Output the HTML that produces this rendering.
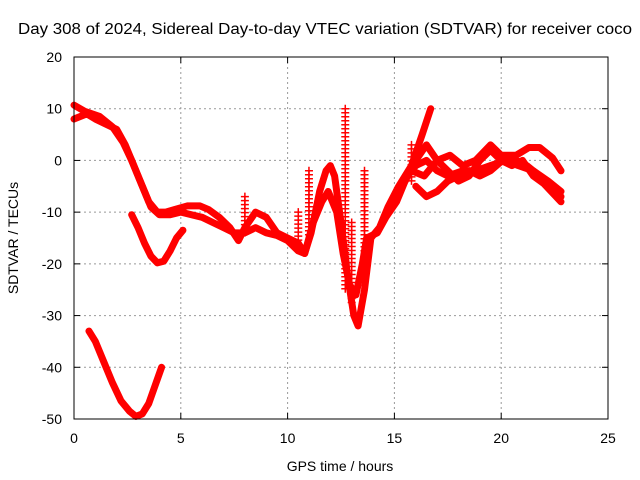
<!DOCTYPE html>
<html><head><meta charset="utf-8"><style>
html,body{margin:0;padding:0;background:#fff;}
svg{display:block;font-family:"Liberation Sans",sans-serif;}
</style></head><body>
<svg id="chart" width="640" height="480">
<text x="18" y="34" font-size="15.5" textLength="614" lengthAdjust="spacingAndGlyphs">Day 308 of 2024, Sidereal Day-to-day VTEC variation (SDTVAR) for receiver coco</text>
<text x="0" y="0" font-size="14" text-anchor="middle" transform="translate(18,238) rotate(-90)">SDTVAR / TECUs</text>
<text x="340" y="471" font-size="14" text-anchor="middle">GPS time / hours</text>
<g id="grid"></g><g id="ticks"></g><g id="series"></g>
<rect x="74" y="57" width="534" height="362" fill="none" stroke="#000" stroke-width="1"/>
</svg>
<script>
const xTicks=[0,5,10,15,20,25];
const yTicks=[20,10,0,-10,-20,-30,-40,-50];
const s1=[[0,10.7],[0.5,9.5],[1.2,8.5],[1.8,6.5],[2.3,3.5],[2.7,0],[3.1,-4],[3.5,-8],[3.9,-10],[4.3,-10],[4.7,-9.5],[5.3,-8.8],[5.9,-8.8],[6.3,-9.5],[6.8,-11],[7.3,-13],[7.7,-15.5],[8.0,-13],[8.5,-10],[9.0,-11],[9.5,-14],[10.0,-15],[10.5,-16],[10.8,-18],[11.1,-14],[11.5,-6],[11.8,-2],[12.0,-1],[12.2,-3],[12.5,-12],[12.8,-22],[13.1,-30],[13.3,-32],[13.6,-25],[13.9,-15],[14.3,-13],[14.7,-9],[15.2,-5],[15.8,-1],[16.3,5],[16.7,10]];
const s2=[[0,8],[0.6,9],[1.0,8],[1.5,7],[2.0,6],[2.4,3],[2.8,-1],[3.2,-5],[3.6,-9],[4.0,-10.5],[4.5,-10.5],[5.0,-10],[5.5,-10.5],[6.0,-11],[6.5,-12],[7.0,-13],[7.5,-14],[8.0,-14],[8.5,-13],[9.0,-14],[9.5,-14.5],[10,-15.5],[10.5,-17.5],[10.8,-18],[11.2,-12],[11.6,-8],[11.9,-6],[12.3,-10],[12.6,-18],[12.9,-24],[13.2,-26],[13.5,-20],[13.7,-15],[14.2,-14],[14.6,-11],[15.1,-8],[15.6,-3],[16.0,-1],[16.5,0],[17.0,-2],[17.5,-3],[18.2,-2],[18.8,-2],[19.5,-1],[20.2,0],[20.8,-1],[21.5,-2],[22.2,-4],[22.8,-6]];
const s3=[[15.5,-4],[16,0],[16.5,3],[17,0],[17.5,-2],[18,-4],[18.5,-3],[19,0],[19.5,2],[20,0],[20.5,-1],[21,0],[21.5,-3],[22,-4.5],[22.8,-8]];
const s4=[[15.8,-2],[16.4,-3],[17,0],[17.6,1],[18.2,-1],[18.8,0],[19.5,3],[20,1],[20.7,1],[21.3,2.5],[21.8,2.5],[22.4,0.5],[22.8,-2]];
const s5=[[16,-5],[16.5,-7],[17,-6],[17.5,-4],[18,-3],[18.5,-2],[19,-3],[19.5,-2],[20.2,0.5],[20.7,0],[21.2,-1],[21.8,-3],[22.5,-6],[22.8,-7]];
const s6=[[2.7,-10.5],[3.0,-13],[3.3,-16],[3.6,-18.5],[3.9,-19.8],[4.2,-19.5],[4.5,-17.5],[4.8,-15],[5.1,-13.5]];
const s7=[[0.7,-33],[1.0,-35],[1.4,-39],[1.8,-43],[2.2,-46.5],[2.6,-48.5],[2.9,-49.5],[3.2,-49],[3.5,-47],[3.8,-43.5],[4.1,-40]];
const spikeX=[8.0,10.5,11.0,12.7,13.0,13.6,15.8];
const spikeTop=[-7,-10,-2,10,-12,-2,3];
const spikeBottom=[-14,-16,-15,-25,-28,-18,-4];
const X=h=>74+h*534/25, Y=v=>57+(20-v)*362/70;
const NS='http://www.w3.org/2000/svg';
const g=document.getElementById('grid'),t=document.getElementById('ticks'),sg=document.getElementById('series');
function mk(tag,attrs,parent){const e=document.createElementNS(NS,tag);for(const k in attrs)e.setAttribute(k,attrs[k]);parent.appendChild(e);return e;}
xTicks.forEach(v=>{
 if(v>0&&v<25){const l=mk('line',{x1:X(v),x2:X(v),y1:57,y2:419,stroke:'#999','stroke-dasharray':'2,3'},g);}
 mk('line',{x1:X(v),x2:X(v),y1:419,y2:413,stroke:'#000'},t);mk('line',{x1:X(v),x2:X(v),y1:57,y2:63,stroke:'#000'},t);
 const tx=mk('text',{x:X(v),y:443,'font-size':14,'text-anchor':'middle'},t);tx.textContent=v;
 
});
yTicks.forEach(v=>{
 if(v<20&&v>-50){const l=mk('line',{x1:74,x2:608,y1:Y(v),y2:Y(v),stroke:'#999','stroke-dasharray':'2,3'},g);}
 mk('line',{x1:74,x2:80,y1:Y(v),y2:Y(v),stroke:'#000'},t);mk('line',{x1:608,x2:602,y1:Y(v),y2:Y(v),stroke:'#000'},t);
 const tx=mk('text',{x:62,y:Y(v)+5,'font-size':14,'text-anchor':'end'},t);tx.textContent=v;
 
});
[s1,s2,s3,s4,s5,s6,s7].forEach((s,i)=>{
 const p=mk('polyline',{points:s.map(d=>X(d[0])+','+Y(d[1])).join(' '),fill:'none',stroke:'#f00','stroke-width':7,'stroke-linejoin':'round','stroke-linecap':'round'},sg);
 
 
});
spikeX.forEach((x,i)=>{
 const a=Y(spikeTop[i]),b=Y(spikeBottom[i]);
 const grp=mk('g',{},sg);
 
 
 for(let y=a;y<=b;y+=4){mk('path',{d:`M${X(x)-4},${y}h8M${X(x)},${y-4}v8`,stroke:'#f00','stroke-width':1.5},grp);}
});
</script>
</body></html>
